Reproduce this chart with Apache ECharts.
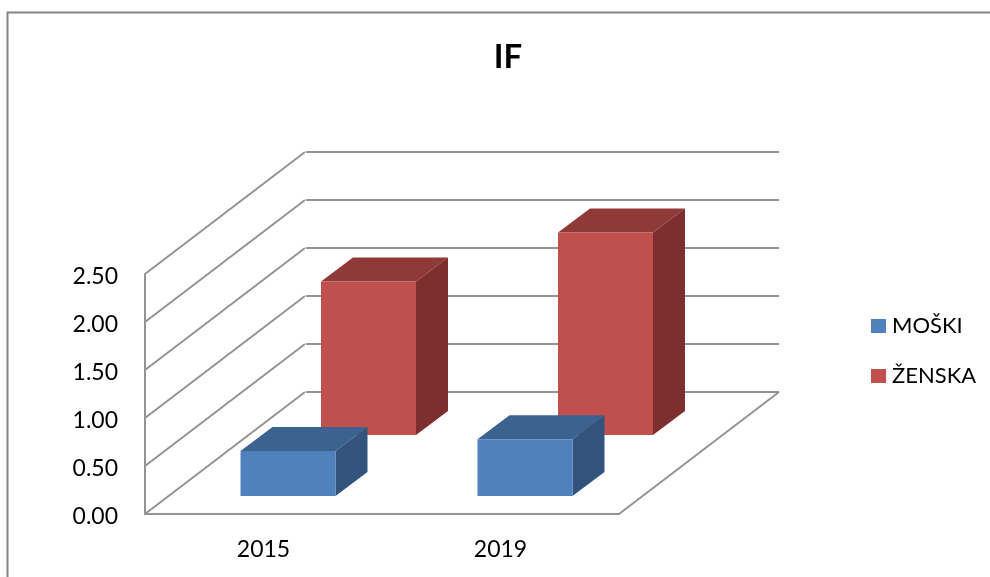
<!DOCTYPE html>
<html>
<head>
<meta charset="utf-8">
<style>
html,body{margin:0;padding:0;background:#fff}
#main{width:990px;height:577px}
</style>
<script src="https://cdn.jsdelivr.net/npm/echarts@6/dist/echarts.min.js"></script>
</head>
<body>
<div id="main"></div>
<script>
var years = ['2015', '2019'];
var moski = [0.47, 0.59];
var zenska = [1.60, 2.11];
var wallTicks = [0, 0.5, 1, 1.5, 2, 2.5];

var font = 'Lato';
var lineColor = '#939393';
// depth of the floor and of one bar, in pixels
var floorDx = 160, floorDy = -122;
var barDx = 32, barDy = -24, barW = 95;

function bar3d(rowDx, rowDy, front, top, side) {
	return function (params, api) {
		var base = api.coord([api.value(0), 0]);
		var head = api.coord([api.value(0), api.value(1)]);
		var l = base[0] + rowDx - barW / 2, r = l + barW;
		var b = base[1] + rowDy, t = head[1] + rowDy;
		return {
			type: 'group',
			children: [
				{type: 'polygon', shape: {points: [[l, t], [l + barDx, t + barDy], [r + barDx, t + barDy], [r, t]]}, style: {fill: top}},
				{type: 'polygon', shape: {points: [[r, t], [r + barDx, t + barDy], [r + barDx, b + barDy], [r, b]]}, style: {fill: side}},
				{type: 'rect', shape: {x: l, y: t, width: barW, height: b - t}, style: {fill: front}}
			]
		};
	};
}

// slanted lines of the left wall, one per tick
function wallLine(params, api) {
	var p = api.coord([0, api.value(0)]);
	var x = params.coordSys.x;
	return {
		type: 'line',
		shape: {x1: x, y1: p[1], x2: x + floorDx, y2: p[1] + floorDy},
		style: {stroke: lineColor, lineWidth: 2}
	};
}

// right edge of the floor
function floorEdge(params, api) {
	var p = api.coord([0, 0]);
	var x = params.coordSys.x + params.coordSys.width;
	return {
		type: 'line',
		shape: {x1: x, y1: p[1], x2: x + floorDx, y2: p[1] + floorDy},
		style: {stroke: lineColor, lineWidth: 2}
	};
}

var chart = echarts.init(document.getElementById('main'));
var option = {
	animation: false,
	backgroundColor: '#fff',
	title: {
		text: 'IF',
		left: 503,
		top: 36,
		textAlign: 'center',
		textStyle: {fontFamily: font, fontSize: 33, fontWeight: 'bold', color: '#000'}
	},
	legend: {
		data: ['MOŠKI', 'ŽENSKA'],
		orient: 'vertical',
		left: 871,
		top: 315,
		padding: 0,
		icon: 'rect',
		itemWidth: 15,
		itemHeight: 14,
		itemGap: 28,
		textStyle: {fontFamily: font, fontSize: 22, color: '#000', padding: [0, 0, 0, 1]}
	},
	grid: [
		{left: 145, top: 274, width: 474, height: 240},
		{left: 306, top: 152, width: 473, height: 240}
	],
	xAxis: [
		{
			type: 'category',
			gridIndex: 0,
			data: years,
			axisLine: {lineStyle: {color: lineColor, width: 2}},
			axisTick: {show: false},
			axisLabel: {fontFamily: font, fontSize: 23, color: '#000', margin: 24}
		},
		{type: 'category', gridIndex: 1, data: years, show: false}
	],
	yAxis: [
		{
			type: 'value',
			gridIndex: 0,
			min: 0,
			max: 2.5,
			interval: 0.5,
			axisLine: {show: true, lineStyle: {color: lineColor, width: 2}},
			axisTick: {show: false},
			splitLine: {show: false},
			axisLabel: {
				fontFamily: font,
				fontSize: 23,
				color: '#000',
				margin: 27,
				verticalAlign: 'top',
				lineHeight: 6,
				formatter: function (v) { return v.toFixed(2); }
			}
		},
		{
			type: 'value',
			gridIndex: 1,
			min: 0,
			max: 2.5,
			interval: 0.5,
			axisLine: {show: false},
			axisTick: {show: false},
			axisLabel: {show: false},
			splitLine: {show: true, lineStyle: {color: lineColor, width: 2}}
		}
	],
	graphic: [{
		type: 'polyline',
		shape: {points: [[7.5, 577], [7.5, 12.5], [990, 12.5]]},
		style: {stroke: '#858585', fill: null, lineWidth: 2}
	}],
	series: [
		{
			type: 'custom',
			name: 'wall',
			z: 1,
			renderItem: wallLine,
			data: wallTicks.map(function (t) { return [t]; }),
			encode: {y: 0},
			silent: true
		},
		{
			type: 'custom',
			name: 'floor',
			z: 1,
			renderItem: floorEdge,
			data: [[0]],
			silent: true
		},
		{
			type: 'custom',
			name: 'MOŠKI',
			z: 4,
			itemStyle: {color: '#4f81bd'},
			renderItem: bar3d(24.5, -18, '#4f81bd', '#3c6290', '#32547c'),
			data: moski.map(function (v, i) { return [i, v]; })
		},
		{
			type: 'custom',
			name: 'ŽENSKA',
			z: 3,
			itemStyle: {color: '#c0504d'},
			renderItem: bar3d(105, -79, '#c0504d', '#8f3a38', '#7c2f2e'),
			data: zenska.map(function (v, i) { return [i, v]; })
		}
	]
};
chart.setOption(option);
</script>
</body>
</html>
